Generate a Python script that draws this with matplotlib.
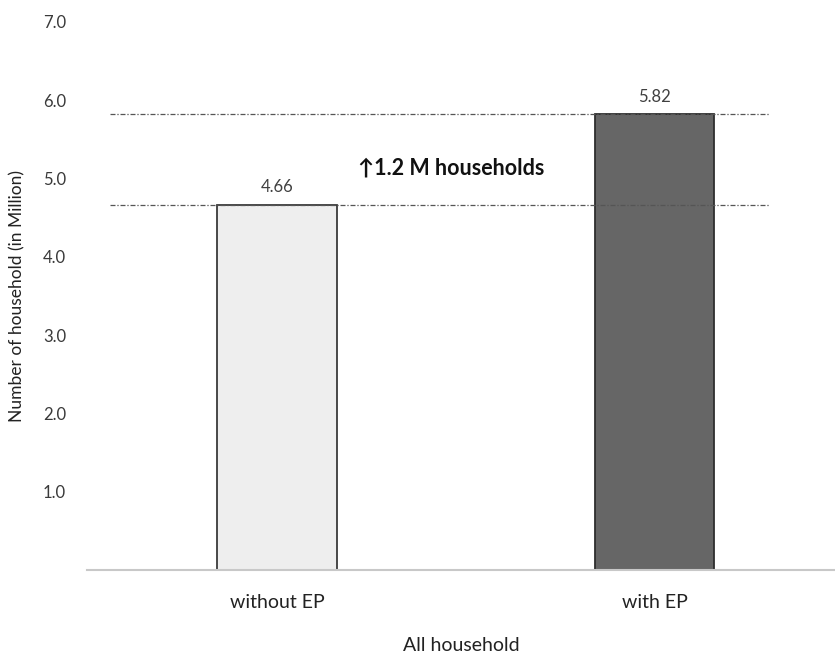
import matplotlib
matplotlib.use("Agg")
import matplotlib.pyplot as plt

plt.rcParams['font.family'] = ['Lato', 'DejaVu Sans']

categories = ["without EP", "with EP"]
households = [4.66, 5.82]
increase_label = "\u21911.2 M households"
y_ticks = [1.0, 2.0, 3.0, 4.0, 5.0, 6.0, 7.0]

fig = plt.figure(figsize=(8.35, 6.54), dpi=100)
ax = fig.add_axes([0.1042, 0.1284, 0.8958, 0.838])

x = list(range(len(categories)))
bars = ax.bar(x, households, width=0.316,
              color=["#eeeeee", "#666666"],
              edgecolor=["#3a3a3a", "#2e2e2e"], linewidth=1.3, zorder=2)

# reference levels for both totals
for v in households:
    ax.hlines(v, -0.443, 1.305, colors="#555555", linestyles=(0, (4, 1.5, 1, 1.5)),
              linewidth=0.9, zorder=3)

for xi, v in zip(x, households):
    ax.annotate(f"{v:.2f}", (xi, v), xytext=(0, 7), textcoords="offset points",
                ha="center", va="bottom", fontsize=12, color="#404040")

ax.text(0.215, 5.13, increase_label, ha="left", va="center",
        fontsize=15.5, fontweight="bold", color="#111111")

ax.set_xlim(-0.503, 1.478)
ax.set_ylim(0, 7.0)
ax.set_yticks(y_ticks)
ax.set_yticklabels([f"{t:.1f}" for t in y_ticks], fontsize=12, color="#3a3a3a")
ax.set_xticks(x)
ax.set_xticklabels(categories, fontsize=14, color="#222222")
ax.tick_params(axis="y", length=0, pad=15)
ax.tick_params(axis="x", length=0, pad=17)

for side in ["left", "right", "top"]:
    ax.spines[side].set_visible(False)
ax.spines["bottom"].set_color("#c8c8c8")
ax.spines["bottom"].set_linewidth(1.5)

ax.set_ylabel("Number of household (in Million)", fontsize=12.5, color="#222222")
ax.yaxis.set_label_coords(-0.082, 0.5)
ax.set_xlabel("All household", fontsize=14, color="#222222", labelpad=19)

fig.savefig("out.png", dpi=100)
